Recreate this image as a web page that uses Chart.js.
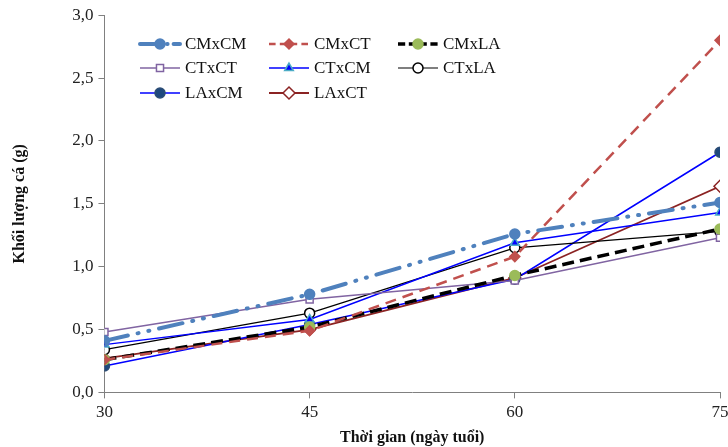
<!DOCTYPE html>
<html>
<head>
<meta charset="utf-8">
<script src="https://cdn.jsdelivr.net/npm/chart.js@4/dist/chart.umd.min.js"></script>
<style>
html,body{margin:0;padding:0;background:#fff;}
#wrap{width:728px;height:447px;}
</style>
</head>
<body>
<div id="wrap"><canvas id="c" width="728" height="447"></canvas></div>
<script>
const xValues = [30, 45, 60, 75];
const xTickLabels = ['30', '45', '60', '75'];
const seriesNames = ['CMxCM', 'CMxCT', 'CMxLA', 'CTxCT', 'CTxCM', 'CTxLA', 'LAxCM', 'LAxCT'];
const cmxcm = [0.41, 0.78, 1.26, 1.51];
const cmxct = [0.26, 0.49, 1.08, 2.80];
const cmxla = [0.26, 0.52, 0.93, 1.30];
const ctxct = [0.48, 0.74, 0.89, 1.23];
const ctxcm = [0.38, 0.58, 1.19, 1.43];
const ctxla = [0.34, 0.63, 1.15, 1.28];
const laxcm = [0.21, 0.54, 0.90, 1.91];
const laxct = [0.27, 0.50, 0.91, 1.64];
const yTitle = 'Khối lượng cá (g)';
const xTitle = 'Thời gian (ngày tuổi)';

const pts = arr => arr.map((v, i) => ({x: xValues[i], y: v}));

const styles = [
  {borderColor:'#4F81BD', borderWidth:4, borderDash:[24,10,1,10,1,10], pointStyle:'circle', pointRadius:5, pointBackgroundColor:'#4F81BD', pointBorderColor:'#4F81BD', cap:'round'},
  {borderColor:'#C0504D', borderWidth:2.5, borderDash:[11,7], pointStyle:'rectRot', pointRadius:5, pointBackgroundColor:'#C0504D', pointBorderColor:'#C0504D', cap:'butt'},
  {borderColor:'#000000', borderWidth:3.5, borderDash:[12,6], pointStyle:'circle', pointRadius:5, pointBackgroundColor:'#9BBB59', pointBorderColor:'#9BBB59', cap:'butt'},
  {borderColor:'#8064A2', borderWidth:1.5, borderDash:[], pointStyle:'rect', pointRadius:5, pointBackgroundColor:'#ffffff', pointBorderColor:'#8064A2', cap:'butt'},
  {borderColor:'#0000FF', borderWidth:1.5, borderDash:[], pointStyle:'triangle', pointRadius:5, pointBackgroundColor:'#0000FF', pointBorderColor:'#4BACC6', cap:'butt'},
  {borderColor:'#000000', borderWidth:1.2, borderDash:[], pointStyle:'circle', pointRadius:5, pointBackgroundColor:'#ffffff', pointBorderColor:'#000000', cap:'butt'},
  {borderColor:'#0000FF', borderWidth:1.5, borderDash:[], pointStyle:'circle', pointRadius:5, pointBackgroundColor:'#1F497D', pointBorderColor:'#2C4D75', cap:'butt'},
  {borderColor:'#8B2323', borderWidth:1.8, borderDash:[], pointStyle:'rectRot', pointRadius:6, pointBackgroundColor:'#ffffff', pointBorderColor:'#8B2323', cap:'butt'}
];
const allData = [cmxcm, cmxct, cmxla, ctxct, ctxcm, ctxla, laxcm, laxct];

const datasets = allData.map((arr, i) => {
  const s = styles[i];
  return {
    label: seriesNames[i],
    data: pts(arr),
    borderColor: s.borderColor,
    borderWidth: s.borderWidth,
    borderDash: s.borderDash,
    borderCapStyle: s.cap,
    pointStyle: s.pointStyle,
    pointRadius: s.pointRadius,
    pointBackgroundColor: s.pointBackgroundColor,
    pointBorderColor: s.pointBorderColor,
    pointBorderWidth: 1.5,
    tension: 0,
    fill: false
  };
});

const legendPos = [
  {x:140, y:44}, {x:269, y:44}, {x:398, y:44},
  {x:140, y:68}, {x:269, y:68}, {x:398, y:68},
  {x:140, y:93}, {x:269, y:93}
];
const legendPlugin = {
  id: 'customLegend',
  afterDraw(chart) {
    const ctx = chart.ctx;
    chart.data.datasets.forEach((ds, i) => {
      const p = legendPos[i];
      const len = 40;
      ctx.save();
      ctx.strokeStyle = ds.borderColor;
      ctx.lineWidth = ds.borderWidth;
      ctx.lineCap = ds.borderCapStyle;
      ctx.setLineDash(ds.borderDash.length ? ds.borderDash.map(v => v * 0.6) : []);
      ctx.beginPath();
      ctx.moveTo(p.x, p.y);
      ctx.lineTo(p.x + len, p.y);
      ctx.stroke();
      ctx.setLineDash([]);
      ctx.fillStyle = ds.pointBackgroundColor;
      ctx.strokeStyle = ds.pointBorderColor;
      ctx.lineWidth = 1.5;
      Chart.helpers.drawPoint(ctx, {pointStyle: ds.pointStyle, radius: ds.pointRadius, rotation: 0, borderWidth: 1.5}, p.x + len / 2, p.y);
      ctx.fillStyle = '#111';
      ctx.font = '17px "Liberation Serif", serif';
      ctx.textBaseline = 'middle';
      ctx.textAlign = 'left';
      ctx.fillText(ds.label, p.x + len + 5, p.y + 1);
      ctx.restore();
    });
  }
};

new Chart(document.getElementById('c'), {
  type: 'line',
  data: { datasets },
  options: {
    responsive: false,
    animation: false,
    devicePixelRatio: 1,
    layout: { padding: { top: 10, right: 8, left: 10, bottom: 0 } },
    plugins: { legend: { display: false }, tooltip: { enabled: false } },
    scales: {
      x: {
        type: 'linear',
        min: 30, max: 75,
        afterBuildTicks(axis) { axis.ticks = xValues.map(v => ({value: v})); },
        afterFit(axis) { axis.paddingRight = 0; },
        ticks: {
          callback: (v, i) => xTickLabels[i],
          color: '#222',
          font: { family: '"Liberation Serif", serif', size: 17 },
          padding: 4,
          maxRotation: 0
        },
        grid: { drawOnChartArea: false, drawTicks: true, tickLength: 6, color: '#808080' },
        border: { color: '#808080', width: 1 },
        title: { display: true, text: xTitle, color: '#111', font: { family: '"Liberation Serif", serif', size: 16, weight: 'bold' }, padding: { top: 1, bottom: 0 } }
      },
      y: {
        min: 0, max: 3,
        ticks: {
          stepSize: 0.5,
          callback: v => v.toFixed(1).replace('.', ','),
          color: '#222',
          font: { family: '"Liberation Serif", serif', size: 17 },
          padding: 5
        },
        grid: { drawOnChartArea: false, drawTicks: true, tickLength: 6, color: '#808080' },
        border: { color: '#808080', width: 1 },
        title: { display: true, text: yTitle, color: '#111', font: { family: '"Liberation Serif", serif', size: 16, weight: 'bold' }, padding: { top: 0, bottom: 38 } }
      }
    }
  },
  plugins: [legendPlugin]
});
</script>
</body>
</html>
